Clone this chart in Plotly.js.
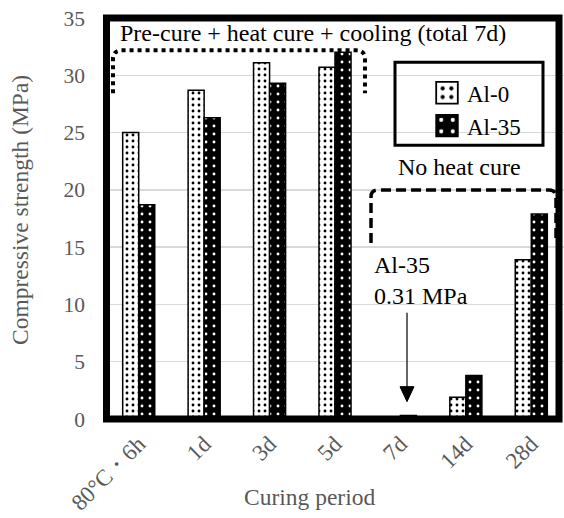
<!DOCTYPE html>
<html>
<head>
<meta charset="utf-8">
<script src="https://cdn.plot.ly/plotly-3.0.1.min.js"></script>
<style>html,body{margin:0;padding:0;background:#fff;}#chart{width:564px;height:518px;}</style>
</head>
<body>
<div id="chart"></div>
<script>
// Data
var categories = ["80°C・6h", "1d", "3d", "5d", "7d", "14d", "28d"];
var seriesNames = ["Al-0", "Al-35"];
var al0Values = [25.0, 28.7, 31.1, 30.7, 0, 1.9, 13.9];
var al35Values = [18.7, 26.3, 29.3, 32.0, 0.31, 3.8, 17.9];
var yTickValues = [0, 5, 10, 15, 20, 25, 30, 35];

var FONT = "Liberation Serif";
var GRAY = "#595959";

// pixel -> paper helpers (plot area: x 106..564, y 17.6..419.4)
var L = 106, W = 458, T = 17.6, B = 419.4;
function px(x) { return (x - L) / W; }
function pyData(y) { return (B - y) / (B - T) * 35; }

var traces = [
  {
    type: "bar", name: seriesNames[0], x: categories, y: al0Values,
    marker: {
      color: "#ffffff",
      line: {color: "#000000", width: 1.5},
      pattern: {shape: ".", fillmode: "replace", bgcolor: "#ffffff", fgcolor: "#000000", size: 6, solidity: 0.18}
    }
  },
  {
    type: "bar", name: seriesNames[1], x: categories, y: al35Values,
    marker: {
      color: "#000000",
      line: {color: "#000000", width: 1.5},
      pattern: {shape: ".", fillmode: "replace", bgcolor: "#000000", fgcolor: "#ffffff", size: 8, solidity: 0.1}
    }
  }
];

function bracket(x0, x1, yBottom, yTop, rx, ry) {
  return "M" + x0 + "," + yBottom + " L" + x0 + "," + (yTop - ry) +
    " Q" + x0 + "," + yTop + " " + (x0 + rx) + "," + yTop +
    " L" + (x1 - rx) + "," + yTop +
    " Q" + x1 + "," + yTop + " " + x1 + "," + (yTop - ry) +
    " L" + x1 + "," + yBottom;
}

var arrowX = px(407);
var shapes = [
  {type: "rect", xref: "paper", yref: "paper", x0: px(106.5), x1: px(559), y0: 0, y1: 1,
   line: {color: "#000", width: 7}, fillcolor: "rgba(0,0,0,0)", layer: "above"},
  {type: "rect", xref: "paper", yref: "y", x0: px(395), x1: px(543), y0: pyData(145), y1: pyData(62),
   line: {color: "#000", width: 3}, fillcolor: "rgba(0,0,0,0)", layer: "above"},
  {type: "path", xref: "paper", yref: "y",
   path: bracket(px(113), px(365), pyData(93), pyData(50), 9 / W, 9 / 11.48),
   line: {color: "#000", width: 4, dash: "dot"}, layer: "above"},
  {type: "path", xref: "paper", yref: "y",
   path: bracket(px(371), px(556), pyData(243), pyData(190), 7 / W, 7 / 11.48),
   line: {color: "#000", width: 3.5, dash: "10px,5px"}, layer: "above"},
  {type: "line", xref: "paper", yref: "y", x0: arrowX, x1: arrowX, y0: pyData(313), y1: pyData(390),
   line: {color: "#333", width: 1.5}},
  {type: "path", xref: "paper", yref: "y",
   path: "M" + (arrowX - 7 / W) + "," + pyData(387) + " L" + (arrowX + 7 / W) + "," + pyData(387) +
         " L" + arrowX + "," + pyData(402) + " Z",
   fillcolor: "#000", line: {color: "#000", width: 1}}
];

var annotations = [
  {xref: "paper", yref: "y", x: px(118), y: pyData(33), xanchor: "left", yanchor: "middle",
   text: "Pre-cure + heat cure + cooling (total 7d)", showarrow: false,
   font: {family: FONT, size: 24, color: "#000"}},
  {xref: "paper", yref: "y", x: px(459), y: pyData(167), xanchor: "center", yanchor: "middle",
   text: "No heat cure", showarrow: false, font: {family: FONT, size: 24, color: "#000"}},
  {xref: "paper", yref: "y", x: px(372), y: pyData(281), xanchor: "left", yanchor: "middle", align: "left",
   text: "Al-35<br>0.31 MPa", showarrow: false, font: {family: FONT, size: 24, color: "#000"}},
  {xref: "paper", yref: "paper", x: px(309), y: (B - 498) / (B - T), xanchor: "center", yanchor: "middle",
   text: "Curing period", showarrow: false, font: {family: FONT, size: 23.5, color: GRAY}},
  {xref: "paper", yref: "paper", x: px(20), y: (B - 210) / (B - T), xanchor: "center", yanchor: "middle",
   textangle: -90, text: "Compressive strength (MPa)", showarrow: false,
   font: {family: FONT, size: 23.5, color: GRAY}}
];

var layout = {
  width: 564, height: 518,
  font: {family: FONT},
  margin: {l: L, r: 564 - L - W, t: T, b: 518 - B, pad: 0},
  paper_bgcolor: "#ffffff", plot_bgcolor: "#ffffff",
  barmode: "group", bargap: 0.51, bargroupgap: 0,
  showlegend: true,
  legend: {x: px(427), y: (B - 71) / (B - T), xanchor: "left", yanchor: "top",
           bgcolor: "rgba(0,0,0,0)", borderwidth: 0, traceorder: "normal",
           font: {family: FONT, size: 23, color: "#000"}},
  xaxis: {type: "category", showgrid: false, zeroline: false, showline: false, ticks: "",
          tickangle: -45, ticklabelstandoff: 6,
          tickfont: {family: FONT, size: 23, color: GRAY}},
  yaxis: {range: [0, 35], tickvals: yTickValues, ticktext: yTickValues.map(String),
          showgrid: true, gridcolor: "#d9d9d9", gridwidth: 1.5, zeroline: false, showline: false,
          ticks: "", ticklabelstandoff: 20,
          tickfont: {family: FONT, size: 21.5, color: GRAY}},
  shapes: shapes,
  annotations: annotations
};

Plotly.newPlot("chart", traces, layout, {displayModeBar: false, staticPlot: true}).then(function () {
  document.querySelectorAll("#chart .legendpoints path").forEach(function (p) {
    var t = p.getAttribute("transform") || "";
    p.setAttribute("transform", t + " scale(1.8)");
    p.style.strokeWidth = "1px";
  });
});
</script>
</body>
</html>
